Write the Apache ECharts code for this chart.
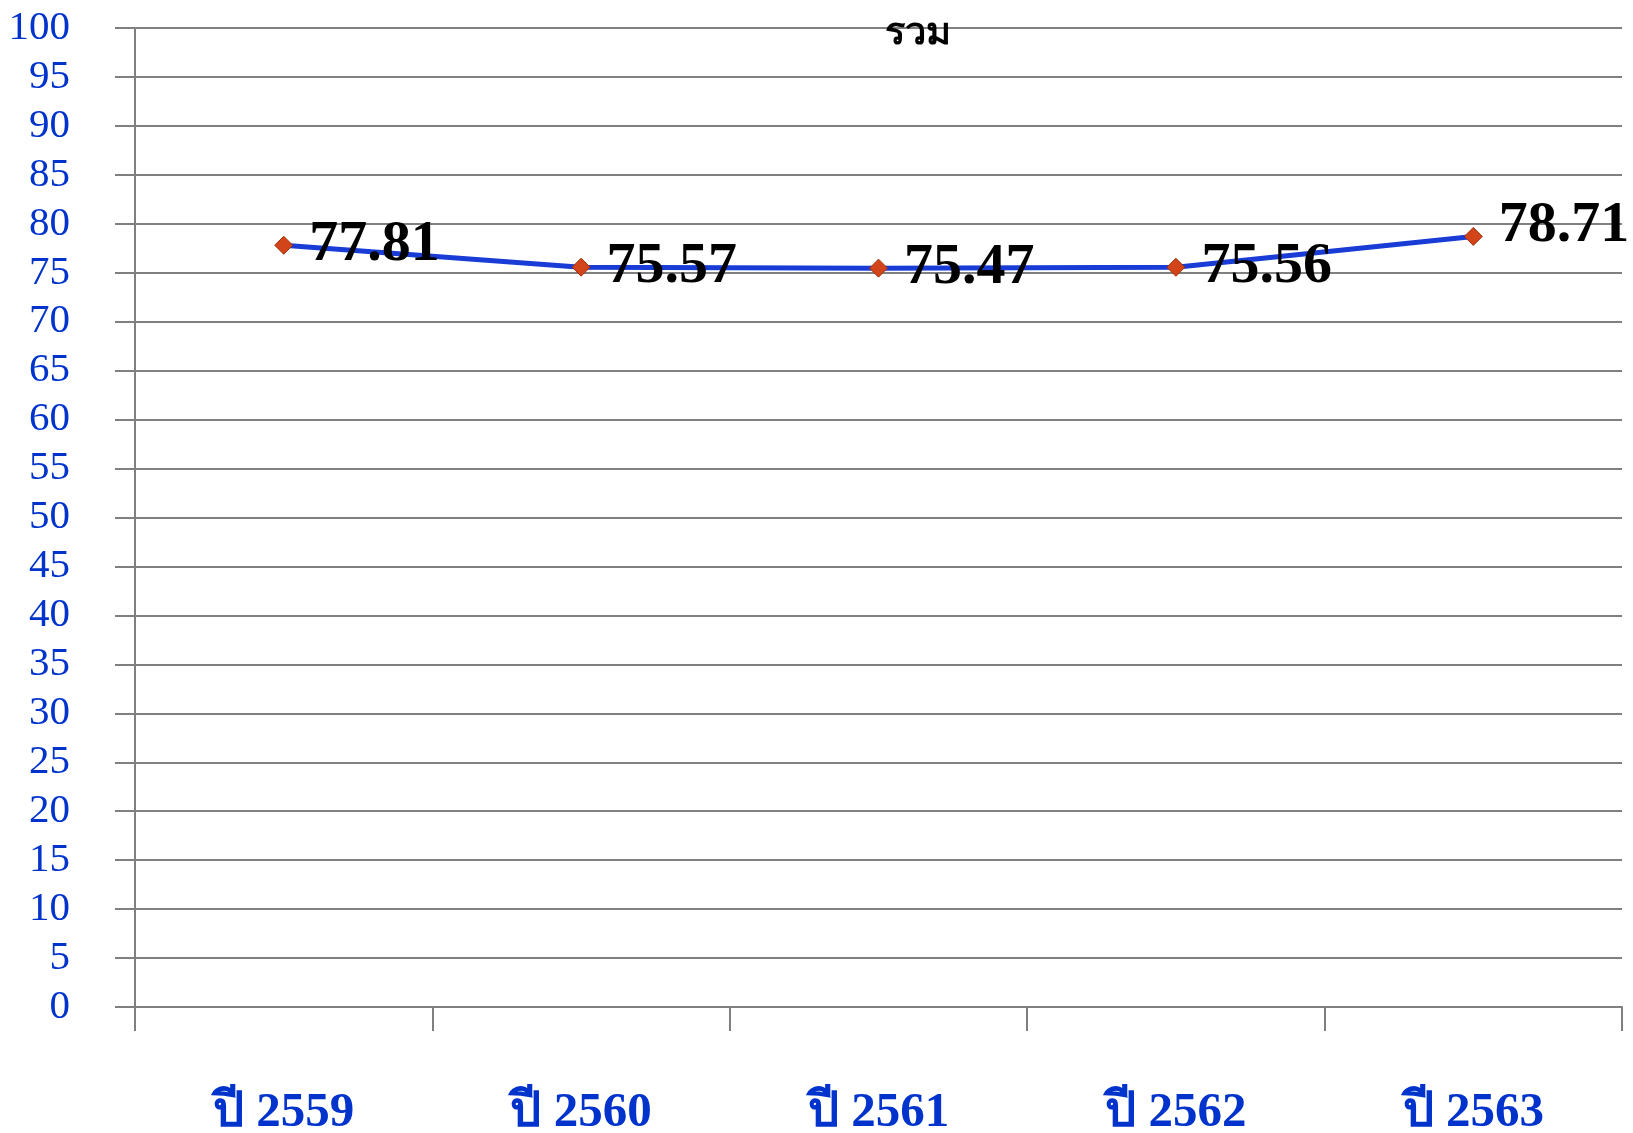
<!DOCTYPE html>
<html>
<head>
<meta charset="utf-8">
<script src="https://cdn.jsdelivr.net/npm/echarts@6/dist/echarts.min.js"></script>
<style>html,body{margin:0;padding:0;background:#fff}#c{width:1633px;height:1133px}</style>
</head>
<body>
<div id="c"></div>
<script>
const categories = ['ปี 2559', 'ปี 2560', 'ปี 2561', 'ปี 2562', 'ปี 2563'];
const values = [77.81, 75.57, 75.47, 75.56, 78.71];
const titleText = 'รวม';
const yMin = 0, yMax = 100, yStep = 5;

const serif = '"Liberation Serif", "Times New Roman", "DejaVu Serif", serif';
const chart = echarts.init(document.getElementById('c'), null, {renderer: 'canvas'});
chart.setOption({
  animation: false,
  backgroundColor: '#ffffff',
  title: {
    text: titleText,
    left: 913, top: 10, textAlign: 'center',
    textStyle: {fontFamily: serif, fontWeight: 'bold', fontSize: 38, color: '#000'}
  },
  grid: {left: 135, right: 11, top: 28, bottom: 126, containLabel: false, outerBoundsMode: 'none'},
  xAxis: {
    type: 'category',
    data: categories,
    boundaryGap: true,
    axisLine: {show: true, lineStyle: {color: '#808080', width: 2}},
    axisTick: {show: true, length: 24, lineStyle: {color: '#808080', width: 2}},
    axisLabel: {margin: 82, fontFamily: serif, fontWeight: 'bold', fontSize: 49, color: '#0033cc'}
  },
  yAxis: {
    type: 'value',
    min: yMin, max: yMax, interval: yStep,
    axisLine: {show: true, lineStyle: {color: '#808080', width: 2}},
    axisTick: {show: true, length: 20, lineStyle: {color: '#808080', width: 2}},
    splitLine: {show: true, lineStyle: {color: '#808080', width: 2}},
    axisLabel: {margin: 65, fontFamily: serif, fontSize: 41, color: '#0033cc'}
  },
  series: [{
    type: 'line',
    data: values.map((v, i) => i === values.length - 1 ? {value: v, label: {offset: [0, -10]}} : v),
    symbol: 'diamond',
    symbolSize: 18,
    lineStyle: {color: '#1a3cd6', width: 5},
    itemStyle: {color: '#d2451a', borderColor: '#a0300c', borderWidth: 1},
    label: {
      show: true, position: 'right', distance: 16,
      fontFamily: serif, fontWeight: 'bold', fontSize: 58, color: '#000'
    },
    z: 3
  }]
});
</script>
</body>
</html>
